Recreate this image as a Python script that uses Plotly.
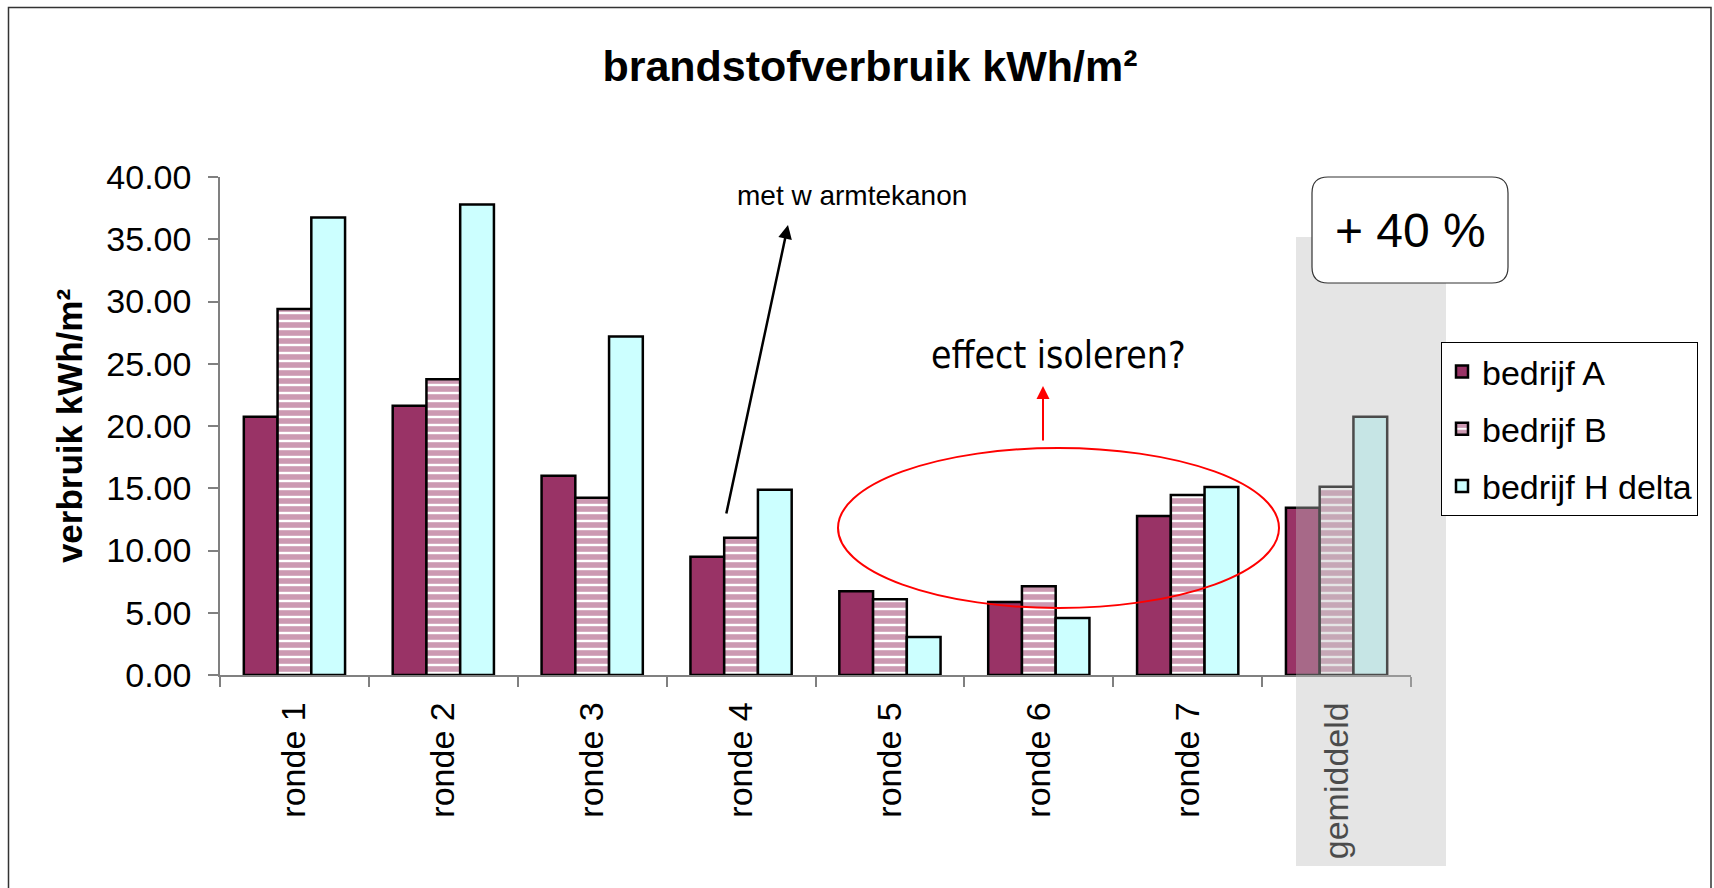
import plotly.graph_objects as go

# ---------------- data ----------------
categories = ["ronde 1", "ronde 2", "ronde 3", "ronde 4", "ronde 5", "ronde 6", "ronde 7", "gemiddeld"]
bedrijf_A = [20.75, 21.63, 16.00, 9.50, 6.72, 5.86, 12.77, 13.44]
bedrijf_B = [29.40, 23.75, 14.24, 11.03, 6.08, 7.13, 14.46, 15.12]
bedrijf_H = [36.74, 37.80, 27.19, 14.88, 3.05, 4.58, 15.10, 20.75]
series_names = ["bedrijf A", "bedrijf B", "bedrijf H delta"]
y_ticks = [0, 5, 10, 15, 20, 25, 30, 35, 40]

# ---------------- layout geometry ----------------
W, H = 1714, 888
ML, MR, MT, MB = 220, 303, 177, 213
PW, PH = W - ML - MR, H - MT - MB


def px(p):  # absolute pixel x -> paper x
    return (p - ML) / PW


def py(p):  # absolute pixel y -> paper y
    return (H - MB - p) / PH


FONT = "Liberation Sans, Arial, sans-serif"
PLUM = "#993366"
CYAN = "#CCFFFF"

fig = go.Figure()
fig.add_trace(go.Bar(
    x=categories, y=bedrijf_A, name=series_names[0], legendgroup="a",
    marker=dict(color=PLUM, line=dict(color="black", width=2.5)),
))
fig.add_trace(go.Bar(
    x=categories, y=bedrijf_B, name=series_names[1], legendgroup="b",
    marker=dict(color="white", line=dict(color="black", width=2.5),
                pattern=dict(shape="-", fgcolor=PLUM, bgcolor="white", size=8, solidity=0.7)),
))
fig.add_trace(go.Bar(
    x=categories, y=bedrijf_H, name=series_names[2], legendgroup="h",
    marker=dict(color=CYAN, line=dict(color="black", width=2.5)),
))

shapes = []
# outer chart border
shapes.append(dict(type="rect", xref="paper", yref="paper",
                   x0=px(8.5), x1=px(1711), y0=py(900), y1=py(7.5),
                   line=dict(color="#333333", width=1.5), fillcolor="rgba(0,0,0,0)"))
# translucent grey highlight over "gemiddeld"
shapes.append(dict(type="rect", xref="paper", yref="paper", layer="above",
                   x0=px(1296), x1=px(1446), y0=py(866), y1=py(237),
                   line=dict(width=0), fillcolor="rgba(190,190,190,0.395)"))
# rounded "+ 40 %" box
bx0, bx1, by0, by1, r = 1312, 1508, 177, 283, 16
path = (f"M {px(bx0 + r)},{py(by0)} L {px(bx1 - r)},{py(by0)} "
        f"Q {px(bx1)},{py(by0)} {px(bx1)},{py(by0 + r)} "
        f"L {px(bx1)},{py(by1 - r)} Q {px(bx1)},{py(by1)} {px(bx1 - r)},{py(by1)} "
        f"L {px(bx0 + r)},{py(by1)} Q {px(bx0)},{py(by1)} {px(bx0)},{py(by1 - r)} "
        f"L {px(bx0)},{py(by0 + r)} Q {px(bx0)},{py(by0)} {px(bx0 + r)},{py(by0)} Z")
shapes.append(dict(type="path", xref="paper", yref="paper", path=path,
                   line=dict(color="#333333", width=1.2), fillcolor="white"))
# red ellipse
shapes.append(dict(type="circle", xref="paper", yref="paper",
                   x0=px(838), x1=px(1279), y0=py(608), y1=py(448),
                   line=dict(color="#FF0000", width=2), fillcolor="rgba(0,0,0,0)"))

annotations = [
    dict(text="+ 40 %", xref="paper", yref="paper", x=px(1410), y=py(230),
         showarrow=False, font=dict(family=FONT, size=48, color="black"),
         xanchor="center", yanchor="middle"),
    dict(text="met w armtekanon", xref="paper", yref="paper", x=px(852), y=py(195),
         showarrow=False, font=dict(family=FONT, size=28, color="black"),
         xanchor="center", yanchor="middle"),
    dict(text="", xref="paper", yref="paper", x=px(788), y=py(225),
         ax=726 - 788, ay=515 - 225, showarrow=True, arrowhead=2, arrowsize=1.1,
         arrowwidth=2.5, arrowcolor="black"),
    dict(text="effect isoleren?", xref="paper", yref="paper", x=px(1058), y=py(355),
         showarrow=False,
         font=dict(family="DejaVu Sans Condensed, Liberation Sans Narrow, Liberation Sans, sans-serif",
                   size=37, color="black"),
         xanchor="center", yanchor="middle"),
    dict(text="", xref="paper", yref="paper", x=px(1043), y=py(386),
         ax=0, ay=56, showarrow=True, arrowhead=2, arrowsize=1.3,
         arrowwidth=2, arrowcolor="#FF0000"),
]

fig.update_layout(
    width=W, height=H,
    margin=dict(l=ML, r=MR, t=MT, b=MB, autoexpand=False),
    paper_bgcolor="white", plot_bgcolor="white",
    barmode="group", bargap=0.32, bargroupgap=0,
    font=dict(family=FONT, size=34, color="black"),
    title=dict(text="<b>brandstofverbruik kWh/m²</b>", x=870 / W, xanchor="center",
               y=1 - 66 / H, yanchor="middle",
               font=dict(family=FONT, size=43, color="black")),
    legend=dict(x=px(1441), y=py(342), xanchor="left", yanchor="top",
                bordercolor="black", borderwidth=1, bgcolor="white",
                font=dict(family=FONT, size=34, color="black"),
                tracegroupgap=10),
    shapes=shapes,
    annotations=annotations,
)
fig.update_xaxes(type="category", showline=True, linecolor="#808080", linewidth=1.5,
                 ticks="outside", tickson="boundaries", ticklen=10, tickcolor="#808080",
                 tickwidth=1.5, tickangle=-90, ticklabelstandoff=12,
                 showgrid=False, zeroline=False, automargin=False,
                 tickfont=dict(family=FONT, size=34, color="black"))
fig.update_yaxes(range=[0, 40], tickvals=y_ticks, tickformat=".2f",
                 showline=True, linecolor="#808080", linewidth=1.5,
                 ticks="outside", ticklen=10, tickcolor="#808080", tickwidth=1.5,
                 ticklabelstandoff=10, showgrid=False, zeroline=False, automargin=False,
                 tickfont=dict(family=FONT, size=34, color="black"),
                 title=dict(text="<b>verbruik kWh/m²</b>", standoff=13,
                            font=dict(family=FONT, size=35, color="black")))

fig.write_html("out.html", config={"displayModeBar": False},
               post_script="document.body.style.margin='0';document.body.style.overflow='hidden';")
